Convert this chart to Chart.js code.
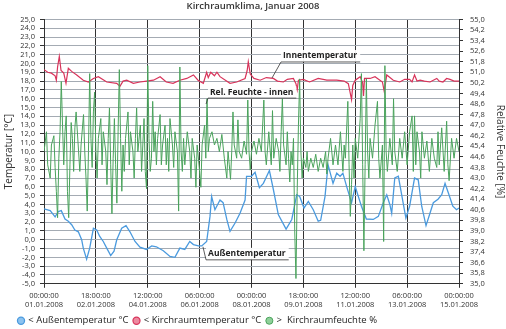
<!DOCTYPE html>
<html><head><meta charset="utf-8">
<script src="https://cdn.jsdelivr.net/npm/chart.js@4.4.1/dist/chart.umd.min.js"></script>
<style>html,body{margin:0;padding:0;background:#fff;}#wrap{width:506px;height:329px;}</style>
</head><body><div id="wrap"><canvas id="c" width="506" height="329"></canvas></div>
<script>
// x axis: hours since 01.01.2008 00:00
const tickLabels = [
  ['00:00:00','01.01.2008'],['18:00:00','02.01.2008'],['12:00:00','04.01.2008'],
  ['06:00:00','06.01.2008'],['00:00:00','08.01.2008'],['18:00:00','09.01.2008'],
  ['12:00:00','11.01.2008'],['06:00:00','13.01.2008'],['00:00:00','15.01.2008']
];
const seriesNames = ['< Außentemperatur °C','< Kirchraumtemperatur °C','>  Kirchraumfeuchte %'];

// [hour, °C]
const outsideTemp = [[0,3.5],[5,3.3],[9,2.6],[11.6,3.2],[14,3.3],[17,2.35],[19.7,2.1],[22.4,1.7],[25,1.1],[27.8,0.9],[30.5,0.0],[31.8,-0.95],[34.5,-2.2],[37,-0.95],[40,1.3],[42.7,1.1],[45,0.4],[48,-0.2],[50.8,-0.95],[54,-1.8],[56.7,-1.3],[58.9,0.0],[62.9,1.3],[66.4,1.6],[69.6,0.9],[73.7,-0.2],[77.7,-0.85],[83,-1.1],[87.2,-0.7],[91,-0.8],[96.6,-1.25],[102,-1.9],[106,-2.0],[110,-0.95],[114,-1.1],[118,-0.2],[121,-0.55],[125,-0.7],[127.7,-0.7],[131.7,-0.2],[134.4,2.65],[135.7,4.9],[138.4,3.4],[142.5,4.5],[145,4.2],[148,2.3],[150.6,0.95],[154.7,1.9],[158.7,3.0],[162.8,4.5],[164,7.2],[168,7.2],[170.9,7.65],[174.4,5.9],[177.6,6.4],[182.5,7.85],[185.7,5.7],[189.7,2.85],[196,1.2],[200.6,2.3],[204.6,5.1],[207,4.9],[210.5,3.6],[214,4.35],[218,3.4],[222,2.1],[224,2.2],[227.5,4.9],[230,8.5],[234,6.4],[237,7.55],[239.7,7.2],[242,7.55],[245,6.05],[249,4.2],[252,6.05],[254.5,4.9],[257,3.8],[261,2.35],[266.6,2.3],[270.7,2.65],[274.7,4.2],[277.5,5.1],[280,4.0],[281.5,3.0],[284,7.0],[286.9,7.2],[289.6,5.1],[293,2.45],[296,3.8],[300,7.0],[303,6.8],[305.8,3.8],[309.3,1.6],[312.5,3.0],[315.2,4.2],[319,4.6],[322,5.1],[324.7,6.4],[327.4,5.3],[331,3.8],[334,3.4],[336,3.6]];

// [hour, °C]
const insideTemp = [[0,19.3],[3,19.0],[6,18.9],[9,18.6],[10,18.1],[11,19.6],[12.4,20.8],[13.8,19.2],[16,18.9],[17.8,17.75],[19.7,19.45],[22.4,19.1],[26.5,18.7],[31.8,18.1],[35.9,17.9],[40,18.3],[44,18.5],[50.8,17.9],[58.9,17.75],[61.5,17.4],[64,18.0],[67,18.1],[72.3,17.75],[77.7,17.9],[83,18.0],[88.6,18.1],[94,18.5],[99,17.9],[104.5,17.75],[110,18.1],[115.6,18.3],[121,18.7],[124.7,18.1],[129,17.75],[131.7,19.0],[133,18.4],[135,19.0],[138,18.6],[140,19.0],[142.5,18.5],[150.6,17.75],[156,17.9],[162.8,18.3],[164.5,19.2],[165.4,20.2],[167,18.8],[170,18.3],[175,18.1],[180,18.4],[185.7,18.3],[189,18.0],[193.8,17.9],[197,18.2],[201.9,18.3],[204,17.7],[205,17.0],[206,18.1],[210,18.2],[215,17.9],[222,18.3],[229,18.1],[237,18.1],[243,18.0],[246.4,17.7],[249,15.9],[250,17.5],[252,18.1],[256,18.5],[258,17.8],[258.7,16.3],[259.5,18.3],[264,18.3],[268,18.5],[274,17.9],[275.5,16.8],[277.5,18.7],[282.8,18.1],[288,17.9],[292,18.2],[296,18.2],[298,17.9],[300,18.7],[302,18.0],[304.5,18.1],[308,18.0],[312.5,17.9],[318,18.3],[320,18.0],[323,17.9],[326,18.3],[328.7,18.2],[332,18.0],[336,18.0]];

// [hour, %]
const humidity = [[0,45.0],[2,46.5],[3,44.0],[5,43.0],[6,45.5],[8,46.2],[9,43.8],[10,42.0],[11,40.0],[12,44.5],[13,46.5],[14,50.3],[15,47.0],[16,44.0],[17,46.5],[18,47.7],[19,42.0],[20,40.0],[21,44.0],[22,47.2],[23,46.0],[24,43.5],[25,46.8],[26,48.0],[28,45.0],[29,43.5],[30,45.5],[32,47.8],[33,45.0],[34,43.0],[35,40.5],[36,45.0],[37,50.9],[38,46.0],[39,43.8],[40,48.0],[41,49.5],[42,45.0],[43,43.0],[44,46.0],[46,47.5],[47,44.0],[48,46.5],[50,45.0],[51,42.5],[52,46.0],[53,48.3],[54,44.0],[55,40.3],[56,44.5],[57,47.5],[58,44.0],[59,41.1],[60,46.5],[61,51.2],[62,46.0],[63,42.0],[64,45.5],[65,43.5],[66,46.0],[68,48.0],[69,44.0],[70,46.5],[72,45.0],[73,43.0],[74,46.0],[75,48.3],[76,45.0],[78,47.0],[79,43.5],[80,45.5],[81,47.5],[82,43.5],[83,42.2],[84,51.5],[85,46.0],[86,43.5],[87,44.5],[88,48.8],[89,45.0],[90,46.5],[91,44.0],[92,46.0],[94,47.8],[95,44.0],[96,45.5],[98,47.0],[99,44.0],[100,46.0],[101,43.5],[102,47.5],[104,45.5],[105,43.8],[106,46.5],[108,45.0],[109,40.5],[110,51.4],[111,45.0],[112,43.5],[113,46.0],[114,44.0],[116,46.5],[118,45.0],[119,43.0],[120,46.0],[122,44.5],[123,42.3],[124,45.5],[126,43.5],[127,42.3],[128,45.5],[130,47.0],[131,44.5],[132,49.0],[133,45.0],[134,46.0],[136,46.5],[138,45.5],[140,46.0],[142,45.0],[144,46.3],[146,44.5],[148,43.0],[149,45.0],[150,44.0],[151,42.9],[152,45.0],[153,48.0],[154,45.5],[156,44.5],[157,47.4],[158,45.0],[160,44.5],[162,45.8],[164,44.8],[165,48.9],[166,45.0],[167,43.6],[168,45.0],[170,45.8],[172,44.8],[174,46.0],[176,45.0],[178,48.9],[179,45.0],[180,44.0],[182,46.5],[184,44.0],[185,48.1],[186,44.5],[188,46.0],[190,45.0],[191,43.5],[192,46.5],[193,49.0],[194,45.5],[196,44.0],[197,46.5],[198,44.5],[199,42.7],[200,45.0],[201,44.0],[202,46.0],[203,39.0],[204,35.4],[205,42.0],[206,47.0],[207,50.5],[208,45.0],[209,43.0],[210,44.5],[212,43.8],[213,45.0],[214,43.5],[216,44.5],[218,43.8],[220,44.8],[222,43.5],[224,44.5],[226,43.8],[228,45.0],[229,43.3],[230,44.5],[232,46.0],[234,44.0],[236,45.5],[238,44.0],[240,46.5],[242,43.5],[243,45.5],[244,44.5],[246,48.8],[247,44.0],[248,40.1],[249,42.5],[250,45.5],[251,43.0],[252,46.0],[254,44.5],[256,47.5],[257,50.9],[258,44.0],[259,37.5],[260,44.0],[261,50.5],[262,45.0],[263,43.0],[264,46.0],[266,44.5],[268,47.0],[270,48.8],[271,44.5],[272,43.0],[274,45.5],[275,38.2],[276,51.5],[277,45.0],[278,43.5],[280,46.0],[282,44.0],[283,49.0],[284,45.0],[286,43.5],[288,46.0],[290,44.5],[292,46.5],[294,44.0],[296,46.5],[298,47.7],[299,43.5],[300,47.7],[301,44.0],[302,46.5],[304,45.0],[305,43.0],[306,46.5],[308,44.5],[310,45.8],[312,43.5],[314,46.0],[316,44.5],[318,43.8],[319,46.5],[320,44.0],[322,46.8],[324,43.5],[326,47.3],[327,44.0],[328,42.8],[330,46.0],[332,44.5],[334,46.0],[336,45.0]];

const toPts = arr => arr.map(p => ({x: p[0], y: p[1]}));
const fmt = v => v.toFixed(1).replace('.', ',');
const FONT = '"Open Sans", "DejaVu Sans", sans-serif';

const callouts = [
  {text: 'Innentemperatur', x: 193.5, y: 20.85, ax: 184.6, ay: 18.35},
  {text: 'Rel. Feuchte - innen', x: 134.4, y: 16.75, ax: 131.2, ay: 15.4},
  {text: 'Außentemperatur', x: 132.8, y: -1.6, ax: 128.7, ay: -0.8}
];

const calloutPlugin = {
  id: 'callouts',
  afterLayout(chart) {
    chart.legend.left += 13; chart.legend.right += 13;
  },
  afterDatasetsDraw(chart) {
    const {ctx, scales: {x, y}} = chart;
    ctx.save();
    ctx.font = 'bold 8.5px ' + FONT;
    ctx.textBaseline = 'middle';
    callouts.forEach(c => {
      const px = x.getPixelForValue(c.x), py = y.getPixelForValue(c.y);
      const w = ctx.measureText(c.text).width;
      ctx.fillStyle = 'rgba(255,255,255,0.92)';
      ctx.fillRect(px - 2, py - 6, w + 5, 12);
      ctx.fillStyle = '#222';
      ctx.fillText(c.text, px, py);
      ctx.strokeStyle = '#333'; ctx.lineWidth = 0.8;
      ctx.beginPath();
      ctx.moveTo(x.getPixelForValue(c.ax), y.getPixelForValue(c.ay));
      ctx.lineTo(px - 2, py + 6);
      ctx.lineTo(px + w + 3, py + 6);
      ctx.stroke();
    });
    ctx.restore();
  }
};

new Chart(document.getElementById('c'), {
  type: 'line',
  data: {
    datasets: [
      {label: seriesNames[0], data: toPts(outsideTemp), yAxisID: 'y', borderColor: '#4a9ade', backgroundColor: '#8cc3f0', borderWidth: 1.3, pointRadius: 0, order: 1},
      {label: seriesNames[1], data: toPts(insideTemp), yAxisID: 'y', borderColor: '#d8335a', backgroundColor: '#ec8aa0', borderWidth: 1.2, pointRadius: 0, order: 2},
      {label: seriesNames[2], data: toPts(humidity), yAxisID: 'y2', borderColor: '#4aa35c', backgroundColor: '#8fd09a', borderWidth: 1, pointRadius: 0, order: 0}
    ]
  },
  options: {
    responsive: false, animation: false, devicePixelRatio: 1,
    layout: {padding: {top: 0, left: 0, right: 0, bottom: -6.5}},
    plugins: {
      title: {display: true, text: 'Kirchraumklima, Januar 2008', color: '#333', font: {family: FONT, size: 9.5, weight: '600'}, padding: {top: 1, bottom: 7}},
      legend: {position: 'bottom', align: 'start',
        labels: {usePointStyle: true, pointStyle: 'circle', boxWidth: 5, boxHeight: 5, padding: 5.5, color: '#222', font: {family: FONT, size: 9.5},
          sort: (a, b) => a.datasetIndex - b.datasetIndex}},
      tooltip: {enabled: false}
    },
    scales: {
      x: {type: 'linear', min: 0, max: 336,
        ticks: {stepSize: 42, autoSkip: false, maxRotation: 0, padding: 4, color: '#333', font: {family: FONT, size: 7.5},
          callback: v => tickLabels[Math.round(v / 42)]},
        grid: {color: '#333', lineWidth: 1, tickLength: 4, tickColor: '#333'},
        border: {color: '#333'},
        afterFit: s => { s.height = 26.7; }
      },
      y: {position: 'left', min: -5, max: 25,
        ticks: {stepSize: 1, autoSkip: false, padding: 5, color: '#333', font: {family: FONT, size: 7.5}, callback: v => fmt(v)},
        grid: {color: '#a4abb3', lineWidth: 1, tickLength: 4, tickColor: '#333'},
        border: {color: '#333'},
        title: {display: true, text: 'Temperatur [°C]', color: '#333', font: {family: FONT, size: 10}, padding: {top: 3, bottom: 0}},
        afterFit: s => { s.width = 44; }
      },
      y2: {position: 'right', min: 35, max: 55,
        ticks: {stepSize: 0.8, autoSkip: false, padding: 7, color: '#333', font: {family: FONT, size: 7.5}, callback: v => fmt(v)},
        grid: {drawOnChartArea: false, tickLength: 4, tickColor: '#333'},
        border: {color: '#333'},
        title: {display: true, text: 'Relative Feuchte [%]', color: '#333', font: {family: FONT, size: 10}, padding: {top: 0, bottom: 0}},
        afterFit: s => { s.width = 47; }
      }
    }
  },
  plugins: [calloutPlugin]
});
</script></body></html>
